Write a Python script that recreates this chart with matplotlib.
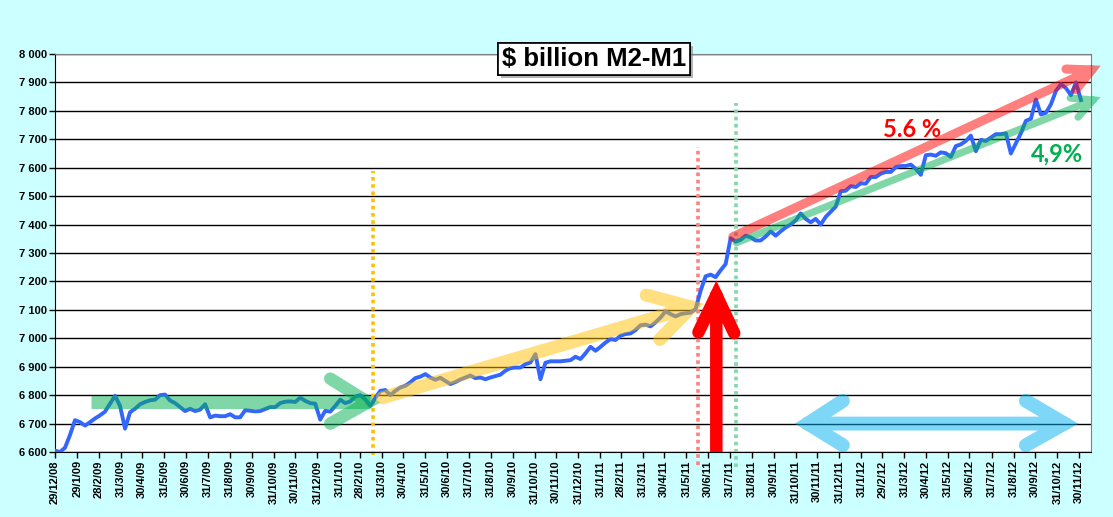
import matplotlib
matplotlib.use('Agg')
import matplotlib.pyplot as plt
import matplotlib.patheffects as pe
import numpy as np
from datetime import datetime

plt.rcParams['font.family'] = ['Liberation Sans', 'DejaVu Sans']

start = np.datetime64('2008-12-29')

def day(s):
    return (np.datetime64(s) - start).astype(int)

# weekly M2-M1, $ billion, from 29/12/08
m2_m1 = [6605, 6600, 6615, 6660, 6712, 6705, 6693, 6705, 6718, 6729, 6742, 6770, 6798,
         6762, 6682, 6740, 6752, 6768, 6776, 6782, 6784, 6800, 6802, 6781, 6772, 6758,
         6744, 6752, 6744, 6749, 6768, 6722, 6728, 6726, 6726, 6733, 6722, 6722,
         6747, 6745, 6743, 6744, 6751, 6758, 6758, 6772, 6777, 6778, 6776, 6791, 6780,
         6772, 6770, 6714, 6745, 6742, 6762, 6784, 6772, 6778, 6795, 6800, 6785,
         6762, 6790, 6815, 6818, 6800, 6815, 6827, 6833, 6845, 6860, 6865, 6874, 6862,
         6854, 6861, 6850, 6839, 6846, 6855, 6862, 6869, 6860, 6862, 6856, 6862,
         6867, 6872, 6886, 6895, 6897, 6897, 6909, 6915, 6944, 6856, 6914, 6919, 6919,
         6919, 6921, 6923, 6935, 6927, 6947, 6970, 6956, 6970, 6985, 6997, 6994,
         7009, 7015, 7017, 7029, 7046, 7048, 7042, 7056, 7073, 7095, 7085, 7077, 7085,
         7088, 7090, 7103, 7167, 7218, 7224, 7215, 7239, 7261, 7352, 7340, 7346,
         7361, 7355, 7344, 7344, 7358, 7376, 7361, 7376, 7390, 7400, 7415, 7439, 7420,
         7408, 7420, 7400, 7427, 7445, 7463, 7517, 7519, 7535, 7532, 7545, 7544,
         7567, 7567, 7579, 7585, 7585, 7602, 7606, 7606, 7611, 7596, 7575, 7644, 7646,
         7642, 7654, 7651, 7638, 7676, 7682, 7694, 7713, 7658, 7698, 7694, 7706,
         7718, 7718, 7721, 7650, 7686, 7721, 7765, 7772, 7840, 7787, 7793, 7823, 7870,
         7894, 7880, 7855, 7900, 7838]
days = np.arange(len(m2_m1)) * 7

tick_labels = ['29/12/08', '29/1/09', '28/2/09', '31/3/09', '30/4/09', '31/5/09', '30/6/09',
               '31/7/09', '31/8/09', '30/9/09', '31/10/09', '30/11/09', '31/12/09', '31/1/10',
               '28/2/10', '31/3/10', '30/4/10', '31/5/10', '30/6/10', '31/7/10', '31/8/10',
               '30/9/10', '31/10/10', '30/11/10', '31/12/10', '31/1/11', '28/2/11', '31/3/11',
               '30/4/11', '31/5/11', '30/6/11', '31/7/11', '31/8/11', '30/9/11', '31/10/11',
               '30/11/11', '31/12/11', '31/1/12', '29/2/12', '31/3/12', '30/4/12', '31/5/12',
               '30/6/12', '31/7/12', '31/8/12', '30/9/12', '31/10/12', '30/11/12']
tick_days = [day(datetime.strptime(t, '%d/%m/%y').strftime('%Y-%m-%d')) for t in tick_labels]

fig = plt.figure(figsize=(11.13, 5.17), dpi=100, facecolor='#ccffff')
ax = fig.add_axes([0.0494, 0.1257, 0.9308, 0.7699])
ax.set_facecolor('white')

ax.plot(days, m2_m1, color='#3366ff', lw=2.8, zorder=3, solid_joinstyle='round')

ax.set_xlim(0, day('2012-12-17'))
ax.set_ylim(6600, 8000)
ax.set_yticks(np.arange(6600, 8001, 100))
ax.set_yticklabels([f'{v:,}'.replace(',', ' ') for v in range(6600, 8001, 100)],
                   fontsize=8, fontweight='bold')
ax.set_xticks(tick_days)
ax.set_xticklabels(tick_labels, rotation=90, fontsize=8, fontweight='bold')
ax.tick_params(axis='both', direction='out', length=4, width=1, pad=2)
ax.grid(axis='y', color='black', lw=1.0)
ax.set_axisbelow(True)
for s in ['top', 'right']:
    ax.spines[s].set_color('#808080')
for s in ['left', 'bottom']:
    ax.spines[s].set_color('black')

# dotted markers
dot = (0, (1, 1))
ax.plot([day('2010-03-19')] * 2, [6590, 7590], color='#ffc000', lw=2.6, ls=dot, clip_on=False, zorder=2)
ax.plot([day('2011-06-16')] * 2, [6553, 7673], color='#ff8080', lw=2.6, ls=dot, clip_on=False, zorder=2)
ax.plot([day('2011-08-09')] * 2, [6546, 7829], color='#80d8a8', lw=2.6, ls=dot, clip_on=False, zorder=2)

# flat green band with chevron
ax.plot([day('2009-02-18'), day('2010-03-14')], [6777, 6777], color='#00b050', alpha=0.5,
        lw=9.4, solid_capstyle='butt', zorder=4)
ax.plot([day('2010-01-18'), day('2010-03-12'), day('2010-01-18')], [6858, 6775, 6700],
        color='#00b050', alpha=0.5, lw=9, solid_capstyle='round', solid_joinstyle='miter', zorder=4)

def arrow(x0, y0, tip, a1, a2, color, lw, alpha=0.5, clip=False):
    xs = [day(x0), day(tip[0]), np.nan, day(a1[0]), day(tip[0]), day(a2[0])]
    ys = [y0, tip[1], np.nan, a1[1], tip[1], a2[1]]
    ax.plot(xs, ys, color=color, alpha=alpha, lw=lw, solid_capstyle='round',
            solid_joinstyle='miter', clip_on=clip, zorder=4)

# yellow trend
arrow('2010-04-01', 6791, ('2011-06-07', 7110), ('2011-04-05', 7152), ('2011-04-24', 6996),
      '#ffc000', 9.4)
# pink 5.6 %
arrow('2011-08-04', 7357, ('2012-12-18', 7944), ('2012-11-12', 7947), ('2012-11-26', 7874),
      '#ff0000', 6.5)
# green 4,9%
arrow('2011-08-09', 7336, ('2012-12-20', 7838), ('2012-11-18', 7845), ('2012-11-29', 7778),
      '#00b050', 5.2)

# big red up arrow
ax.plot([day('2011-07-12'), day('2011-07-12'), np.nan,
         day('2011-06-17'), day('2011-07-12'), day('2011-08-06')],
        [6500, 7152, np.nan, 7021, 7152, 7018], color='#ff0000', lw=9,
        solid_capstyle='round', solid_joinstyle='miter', zorder=5)

# light blue double arrow
ax.plot([day('2012-01-05'), day('2011-11-17'), day('2012-01-05'), np.nan,
         day('2011-11-17'), day('2012-11-10'), np.nan,
         day('2012-09-17'), day('2012-11-10'), day('2012-09-17')],
        [6780, 6700, 6624, np.nan, 6700, 6700, np.nan, 6780, 6700, 6624],
        color='#00b0f0', alpha=0.5, lw=10, solid_capstyle='round',
        solid_joinstyle='miter', zorder=4)

ax.text(day('2012-04-11'), 7733, '5.6 %', color='#ff0000', fontsize=17, fontweight='bold',
        family=['Lato', 'DejaVu Sans'], ha='center', va='center', zorder=6)
ax.text(day('2012-10-31'), 7648, '4,9%', color='#00b050', fontsize=17, fontweight='bold',
        family=['Lato', 'DejaVu Sans'], ha='center', va='center', zorder=6)

t = fig.text(0.534, 0.886, r'\$ billion M2-M1', fontsize=18.5, fontweight='bold',
             ha='center', va='center', zorder=10,
             bbox=dict(boxstyle='square,pad=0.15', fc='white', ec='black', lw=1.2))
t.get_bbox_patch().set_path_effects([pe.withSimplePatchShadow(offset=(2, -2), shadow_rgbFace='gray', alpha=0.6),
                                     pe.Normal()])

fig.savefig('out.png', dpi=100, facecolor=fig.get_facecolor())
